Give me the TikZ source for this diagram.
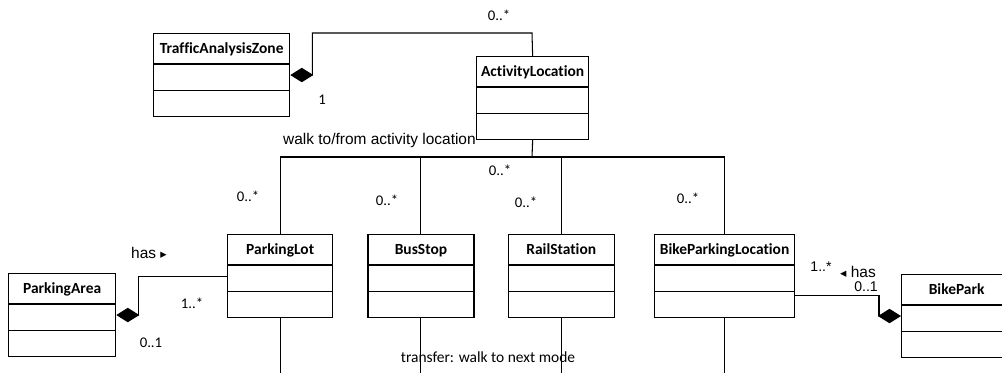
\documentclass[tikz,border=0pt]{standalone}
\usepackage{fontspec}
\setmainfont{Carlito}[Ligatures=NoCommon]
\newfontfamily\arialfont{Liberation Sans}
\newfontfamily\symfont{DejaVu Sans}
\usetikzlibrary{arrows.meta, positioning, shapes.multipart}

\begin{document}
\begin{tikzpicture}[
    x=0.025cm, y=-0.025cm,
    cls/.style={rectangle split, rectangle split parts=3, draw, line width=0.9pt,
                inner xsep=2pt, inner ysep=0pt, minimum width=#1,
                font=\bfseries\fontsize{11}{13}\selectfont,
                execute at begin node={\rule[-0.24cm]{0pt}{0.725cm}},
                rectangle split empty part height=0.625cm, anchor=north west},
    cls/.default=2.65cm,
    mult/.style={font=\fontsize{10.5}{12}\selectfont, inner sep=0pt},
    lbl/.style={font=\arialfont\fontsize{11}{13}\selectfont, inner sep=0pt},
    conn/.style={line width=0.75pt},
    comp/.style={conn, {Diamond[length=0.575cm, width=0.36cm]}-},
]
    \useasboundingbox (0,0) rectangle (1002,373);

    \node[cls=3.4cm] (taz) at (153,33) {TrafficAnalysisZone};
    \node[cls=2.8cm] (al) at (476,56) {ActivityLocation};
    \node[cls=2.625cm] (lot) at (227,234) {ParkingLot};
    \node[cls, right=0.85cm of lot] (bus) {BusStop};
    \node[cls, right=0.825cm of bus] (rail) {RailStation};
    \node[cls=3.5cm, right=0.975cm of rail] (bpl) {BikeParkingLocation};
    \node[cls=2.675cm] (pa) at (8,273) {ParkingArea};
    \node[cls=2.75cm] (bp) at (901,274) {BikePark};

    \coordinate (tazbend) at (532,33);
    \coordinate (hub) at (532,157);
    \coordinate (floor) at (0,373);

    % zone contains locations
    \draw[comp] (taz.east) -- ++(22,0) |- (tazbend) -- (al.north);
    \node[mult] (tazmany) at (499,15) {0..*};
    \node[mult] (tazone) at (322,100) {1};

    % walk links
    \draw[conn] (al.south) -- (hub);
    \draw[conn] (lot.north) |- (hub);
    \draw[conn] (bpl.north) |- (hub);
    \draw[conn] (bus.north) -- (bus.north |- hub);
    \draw[conn] (rail.north) -- (rail.north |- hub);
    \node[lbl, anchor=base east] (walk) at ([yshift=-0.1cm]al.south west) {walk to/from activity location};
    \node[mult] (hubmany) at (500,170) {0..*};
    \node[mult] (lotmany) at (248,196) {0..*};
    \node[mult] (busmany) at (387,200) {0..*};
    \node[mult] (railmany) at (526,202) {0..*};
    \node[mult] (bplmany) at (688,198) {0..*};

    % transfer links
    \foreach \c in {lot, bus, rail, bpl}
        \draw[conn] (\c.south) -- (\c.south |- floor);
    \node[font=\fontsize{11}{13}\selectfont, inner sep=0pt] (transfer) at (488,357) {transfer: walk to next mode};

    % parking area has lots
    \draw[comp] (pa.east) -- ++(22,0) |- (lot.west);
    \node[lbl] (pahas) at (149,253) {has {\symfont\fontsize{9}{10}\selectfont ▸}};
    \node[mult] (pamany) at (192,303) {1..*};
    \node[mult] (paone) at (151,343) {0..1};

    % bike park has bike parking
    \draw[comp] (bp.west) -- ++(-22,0) |- ([yshift=-0.475cm]bpl.east);
    \node[lbl, font=\arialfont\fontsize{10}{12}\selectfont] (bpmany) at (821,267) {1..*};
    \node[lbl] (bphas) at (858,272) {{\symfont\fontsize{9}{10}\selectfont ◂} has};
    \node[lbl, font=\arialfont\fontsize{10}{12}\selectfont] (bpone) at (866,287) {0..1};
\end{tikzpicture}
\end{document}
